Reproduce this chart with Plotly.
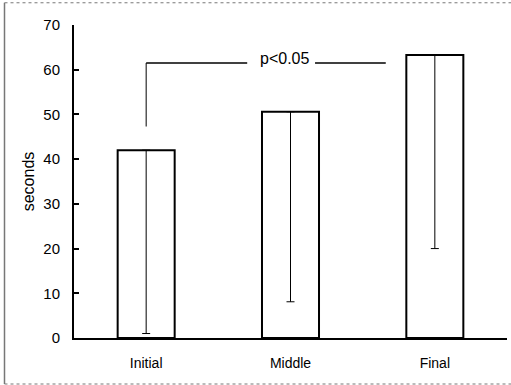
import plotly.graph_objects as go

categories = ["Initial", "Middle", "Final"]
means = [42.0, 50.6, 63.3]
lower = [1.0, 8.1, 20.0]
y_ticks = [0, 10, 20, 30, 40, 50, 60, 70]
sig_label = "p<0.05"

font = "Liberation Sans, Arial, sans-serif"

fig = go.Figure()
fig.add_trace(go.Bar(
    x=categories, y=means,
    marker=dict(color="white", line=dict(color="black", width=2)),
    width=0.395,
    error_y=dict(type="data", symmetric=False,
                 array=[0] * len(means),
                 arrayminus=[m - l for m, l in zip(means, lower)],
                 color="black", thickness=1, width=4),
))

# significance bracket
fig.add_shape(type="line", xref="x", yref="y", x0=0, x1=0, y0=47.3, y1=61.5,
              line=dict(color="black", width=1))
fig.add_shape(type="line", xref="x", yref="y", x0=0, x1=0.70, y0=61.5, y1=61.5,
              line=dict(color="black", width=1.5))
fig.add_shape(type="line", xref="x", yref="y", x0=1.17, x1=1.66, y0=61.5, y1=61.5,
              line=dict(color="black", width=1.5))
fig.add_annotation(x=0.96, y=62.6, xref="x", yref="y", text=sig_label,
                   showarrow=False, font=dict(family=font, size=16, color="black"))

# outer frame
L, T, B, R = -0.1605, 1.071, -0.147, 1.02
fig.add_shape(type="line", xref="paper", yref="paper", x0=L, x1=L, y0=B, y1=T,
              line=dict(color="#777777", width=1.5))
fig.add_shape(type="line", xref="paper", yref="paper", x0=L, x1=R, y0=T, y1=T,
              line=dict(color="#777777", width=1, dash="dot"))
fig.add_shape(type="line", xref="paper", yref="paper", x0=L, x1=R, y0=B, y1=B,
              line=dict(color="#777777", width=1, dash="dot"))

fig.update_layout(
    width=511, height=385,
    margin=dict(l=74, r=4, t=25, b=47),
    plot_bgcolor="white", paper_bgcolor="white",
    showlegend=False,
    font=dict(family=font, color="black"),
    xaxis=dict(showline=True, linecolor="black", linewidth=2, ticks="",
               tickfont=dict(size=14), ticklabelstandoff=11, showgrid=False,
               range=[-0.5, 2.5]),
    yaxis=dict(range=[0, 70], tickvals=y_ticks, showline=True, linecolor="black",
               linewidth=2, ticks="inside", ticklen=5, tickwidth=1.5, tickcolor="black",
               showgrid=False, zeroline=False, tickfont=dict(size=15),
               ticklabelstandoff=9,
               title=dict(text="seconds", font=dict(size=16), standoff=5)),
)

fig.write_html("out.html")
